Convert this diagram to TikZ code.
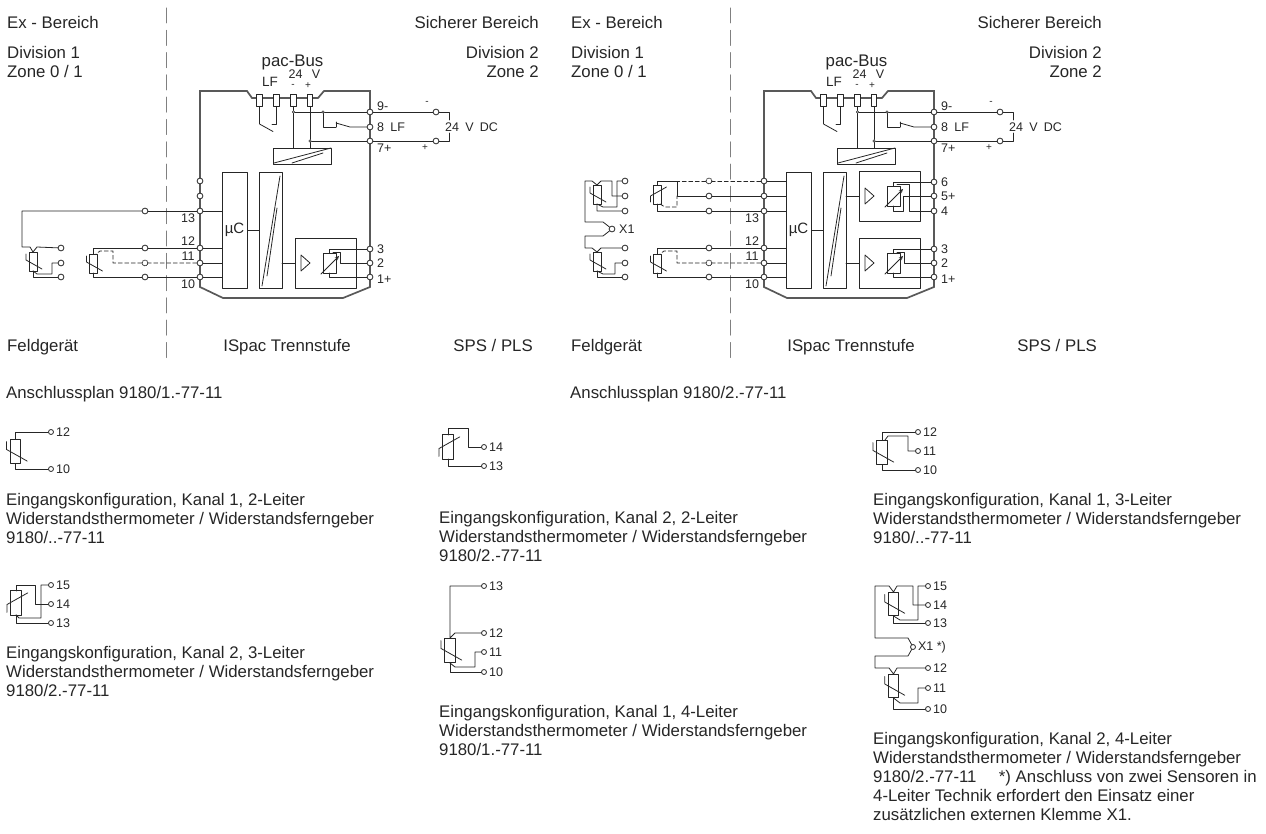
\documentclass[tikz,border=0pt]{standalone}
\usepackage{fontspec}
\setmainfont{Liberation Sans}
\definecolor{inkgray}{rgb}{0.15,0.15,0.15}
\definecolor{wallgray}{rgb}{0.35,0.35,0.35}
\tikzset{
  txt/.style={font=\fontsize{16.8}{19}\selectfont,text=inkgray,inner sep=0pt,align=left},
  tag/.style={font=\fontsize{12.5}{14}\selectfont,text=inkgray,inner sep=0pt},
  tagsmall/.style={font=\fontsize{10}{12}\selectfont,text=inkgray,inner sep=0pt},
  wire/.style={line width=0.8pt,color=black!85},
  dashwire/.style={wire,dash pattern=on 4pt off 2.5pt},
  wall/.style={line width=1.7pt,color=wallgray,line join=miter},
  zone/.style={line width=1pt,color=gray,dash pattern=on 15pt off 7.3pt},
  term/.style={circle,draw=black!85,fill=white,inner sep=0pt,minimum size=5.8pt,line width=0.8pt},
  termdash/.style={term,dash pattern=on 1pt off 1pt},
  termsmall/.style={term,minimum size=5pt},
  dotj/.style={circle,draw=black!85,fill=white,inner sep=0pt,minimum size=2.4pt,line width=0.5pt},
  pics/rtd/.style={code={
    \draw[wire] (-4,0) rectangle (4,19);
    \draw[wire] (-7,2) -- (-7,8) -- (9,17);
  }}
}
\begin{document}
\begin{tikzpicture}[line cap=round,line join=round,>=stealth,x=1pt,y=-1pt]
\useasboundingbox (0,0) rectangle (1266,834);

% the two circuit sheets
\foreach \m/\dx/\nr/\rr in {a/0/1/539,b/564/2/538} {
\begin{scope}[xshift=\dx pt]
\node[txt,anchor=base west] (\m ex) at (7,29) {Ex - Bereich};
\node[txt,anchor=base west] (\m div) at (7,59) {Division 1};
\node[txt,anchor=base west] (\m zone) at (7,78) {Zone 0 / 1};
\node[txt,anchor=base east] (\m safe) at (\rr,29) {Sicherer Bereich};
\node[txt,anchor=base east] (\m divb) at (\rr,59) {Division 2};
\node[txt,anchor=base east] (\m zoneb) at (\rr,78) {Zone 2};
\node[txt,anchor=base west] (\m feld) at (7,351) {Feldgerät};
\node[txt,anchor=base] (\m isp) at (287,351) {ISpac Trennstufe};
\node[txt,anchor=base east] (\m sps) at (533,351) {SPS / PLS};
\node[txt,anchor=base west] (\m plan) at (6,398) {Anschlussplan 9180/\nr.-77-11};
\draw[zone] (166,8) -- (166,364);
\draw[wall] (200,287) -- (200,91) -- (247,91) -- (252,98) -- (318,98) -- (324,91) -- (370,91) -- (370,287) -- (343,298) -- (223,298) -- cycle;

% bus head
\node[txt] (\m bus) at (292.5,62) {pac-Bus};
\node[tag] (\m lf) at (270,82) {\fontsize{13.5}{15}\selectfont LF};
\node[tag] (\m volt) at (295.5,74) {24};
\node[tag] (\m vv) at (316,74) {V};
\node[tagsmall] (\m mi) at (293,86) {-};
\node[tagsmall] (\m pl) at (308,86) {+};
\foreach \f/\x in {A/259.5,B/276.5,C/293.5,D/310}
  \node[draw=black!85,fill=white,line width=0.8pt,inner sep=0pt,minimum width=5.5pt,minimum height=12pt] (\m\f) at (\x,100) {};

% terminals
\foreach \n/\y in {9/112,8/127,7/141,3/249,2/263,1/277}
  \node[term] (\m\n) at (370,\y) {};
\foreach \n/\y in {15/181,14/196,13/211,12/248,11/263,10/277}
  \node[term] (\m\n) at (200,\y) {};
\node[tag,anchor=west] (\m l9) at (377,106) {9-};
\node[tag,anchor=west] (\m l8) at (377,127) {8\,\,\,LF};
\node[tag,anchor=west] (\m l7) at (377,148) {7+};
\node[tag,anchor=west] (\m l3) at (377,249) {3};
\node[tag,anchor=west] (\m l2) at (377,263) {2};
\node[tag,anchor=west] (\m l1) at (377,279) {1+};
\node[tag] (\m l13) at (188,218) {13};
\node[tag] (\m l12) at (188,241) {12};
\node[tag] (\m l11) at (188,256) {11};
\node[tag] (\m l10) at (188,284) {10};

% supply side
\node[dotj] (\m j1) at (293.5,112) {};
\node[dotj] (\m j2) at (323,112) {};
\node[dotj] (\m j3) at (310,141) {};
\node[term] (\m p) at (436,112) {};
\node[term] (\m q) at (436,141) {};
\node[tag,anchor=west] (\m dc) at (445,127) {24\,\,\,V\,\,\,DC};
\node[tagsmall] (\m mm) at (427,103) {-};
\node[tagsmall] (\m pp) at (425,148) {+};
\draw[wire] (\m9) -- (\m j2) -- (\m j1);
\draw[wire] (\m7) -- (\m j3);
\draw[wire] (\m9) -- (\m p);
\draw[wire] (\m7) -- (\m q);
\draw[wire] (\m p) -- (449,112) -- (449,120);
\draw[wire] (\m q) -- (449,141) -- (449,133);
\draw[wire] (\m C) -- (\m j1) -- (293.5,148);
\draw[wire] (\m D) -- (\m j3) -- (310,148);
\draw[wire] (\m A) -- (259.5,124) -- (273,131.5);
\draw[wire] (\m B) -- (276.5,124) -- (272,124);
\draw[wire] (\m j2) -- (323,127) -- (336,127);
\draw[wire] (336,122) -- (336,127);
\draw[wire] (336,123) -- (350,127) -- (\m8);
\draw[wire] (273,148) rectangle (331,164);
\draw[wire] (274,163) -- (331,148);
\draw[wire] (292,163) -- (323,153);

% blocks
\node[draw=black!85,line width=0.8pt,minimum width=25pt,minimum height=116pt,inner sep=0pt,tag] (\m uc) at (234.5,230) {\fontsize{15}{16}\selectfont µC};
\node[draw=black!85,line width=0.8pt,minimum width=23pt,minimum height=116pt,inner sep=0pt] (\m iso) at (270.5,230) {};
\draw[wire] (\m uc) -- (\m iso);
\draw[wire] (262,286) -- (280,176);
\draw[wire] (267,276) -- (277,208);
\node[draw=black!85,line width=0.8pt,minimum width=61pt,minimum height=50pt,inner sep=0pt] (\m out) at (325.5,263) {};
\draw[wire] (282,263) -- (\m out);
\draw[wire] (301,255) -- (301,271) -- (310,263) -- cycle;
\draw[wire] (323,253) rectangle (336,273);
\draw[wire,->] (321,274) -- (339,256);
\draw[wire] (\m3) -- (329,249) -- (329,253);
\draw[wire] (\m2) -- (340,263) -- (340,252) -- (333,252);
\draw[wire] (\m1) -- (329,277) -- (329,273);
\draw[wire] (\m13) -- (222,211);
\draw[wire] (\m12) -- (222,248);
\draw[wire] (\m11) -- (222,263);
\draw[wire] (\m10) -- (222,277);

% field side, lower channel
\node[term] (\m o12) at (145,248) {};
\node[termdash] (\m o11) at (145,263) {};
\node[term] (\m o10) at (145,277) {};
\node[term] (\m o13) at (145,211) {};
\pic at (93.5,254) {rtd};
\draw[wire] (\m12) -- (\m o12) -- (93.5,248) -- (93.5,254);
\draw[wire] (\m10) -- (\m o10) -- (93.5,277) -- (93.5,273);
\draw[dashwire] (\m11) -- (\m o11) -- (113,263) -- (113,251) -- (100,251) -- (96,254);
\draw[wire] (\m13) -- (\m o13);
\node[term] (\m s1) at (61,248) {};
\node[term] (\m s2) at (61,263) {};
\node[term] (\m s3) at (61,277) {};
\end{scope}
}

% sheet 1, field sensor
\pic at (33,252) {rtd};
\draw[wire] (ao13) -- (22,211) -- (22,247) -- (30,247) -- (33,252) -- (37,247) -- (as1);
\draw[wire] (33,271) -- (33,277) -- (as3);
\draw[wire] (33,271) -- (37,274) -- (52,274) -- (52,263) -- (as2);

% sheet 2, upper channel
\node[termdash] (bo15) at (709,181) {};
\node[term] (bo14) at (709,196) {};
\draw[wire] (b15) -- (786,181);
\draw[wire] (b14) -- (786,196);
\draw[dashwire] (b15) -- (bo15) -- (677,181);
\draw[wire] (b14) -- (bo14) -- (677,196) -- (677,181) -- (657.5,181) -- (657.5,185);
\draw[wire] (bo13) -- (657.5,211) -- (657.5,204);
\draw[dashwire] (660,204) -- (665,207) -- (677,207) -- (677,196);
\pic[yscale=-1] at (657.5,204) {rtd};

% sheet 2, upper output block
\node[term] (b6) at (934,182) {};
\node[term] (b5) at (934,196) {};
\node[term] (b4) at (934,211) {};
\node[tag,anchor=west] (bl6) at (941,182) {6};
\node[tag,anchor=west] (bl5) at (941,196) {5+};
\node[tag,anchor=west] (bl4) at (941,211) {4};
\node[draw=black!85,line width=0.8pt,minimum width=61pt,minimum height=50pt,inner sep=0pt] (bup) at (889.5,196) {};
\draw[wire] (846,196) -- (bup);
\draw[wire] (865,188) -- (865,204) -- (874,196) -- cycle;
\draw[wire] (887,186) rectangle (900,206);
\draw[wire,->] (885,207) -- (903,189);
\draw[wire] (b6) -- (893,182) -- (893,186);
\draw[wire] (b5) -- (903,196) -- (903,211) -- (893,211) -- (893,206);
\draw[wire] (b4) -- (909,211) -- (909,184) -- (897,184);

% sheet 2, field sensors
\node[term] (bu1) at (625,181) {};
\node[term] (bu2) at (625,196) {};
\node[term] (bu3) at (625,211) {};
\node[term] (bx) at (612,229) {};
\node[tag,anchor=west] (blx) at (619,229) {X1};
\pic at (597,185) {rtd};
\draw[wire] (bx) -- (603,222) -- (585,222) -- (585,181) -- (592,181) -- (597,185) -- (601,181) -- (612,181) -- (612,196) -- (bu2);
\draw[wire] (bu1) -- (617,181) -- (617,207) -- (603,207) -- (597,204) -- (597,211) -- (bu3);
\pic at (597,252) {rtd};
\draw[wire] (bx) -- (603,236) -- (585,236) -- (585,248) -- (592,248) -- (597,252) -- (601,248) -- (bs1);
\draw[wire] (bs2) -- (615,263) -- (615,274) -- (603,274) -- (597,271);
\draw[wire] (597,271) -- (597,277) -- (bs3);

% input configurations
\node[txt,anchor=north west] (capa) at (6,493) {Eingangskonfiguration, Kanal 1, 2-Leiter\\Widerstandsthermometer / Widerstandsferngeber\\9180/..-77-11};
\node[txt,anchor=north west] (capb) at (439,511) {Eingangskonfiguration, Kanal 2, 2-Leiter\\Widerstandsthermometer / Widerstandsferngeber\\9180/2.-77-11};
\node[txt,anchor=north west] (capc) at (873,493) {Eingangskonfiguration, Kanal 1, 3-Leiter\\Widerstandsthermometer / Widerstandsferngeber\\9180/..-77-11};
\node[txt,anchor=north west] (capd) at (6,646) {Eingangskonfiguration, Kanal 2, 3-Leiter\\Widerstandsthermometer / Widerstandsferngeber\\9180/2.-77-11};
\node[txt,anchor=north west] (cape) at (439,705) {Eingangskonfiguration, Kanal 1, 4-Leiter\\Widerstandsthermometer / Widerstandsferngeber\\9180/1.-77-11};
\node[txt,anchor=north west] (capf) at (873,732) {Eingangskonfiguration, Kanal 2, 4-Leiter\\Widerstandsthermometer / Widerstandsferngeber\\9180/2.-77-11\quad\,\,*) Anschluss von zwei Sensoren in\\4-Leiter Technik erfordert den Einsatz einer\\zusätzlichen externen Klemme X1.};

\foreach \n/\t/\x/\y in {
  a12/12/51/432,a10/10/51/469,
  b14/14/484/447,b13/13/484/466,
  c12/12/918/432,c11/11/918/451,c10/10/918/470,
  d15/15/51/585,d14/14/51/604,d13/13/51/623,
  e13/13/484/586,e12/12/484/633,e11/11/484/652,e10/10/484/672,
  f15/15/928/586,f14/14/928/605,f13/13/928/623,f12/12/928/668,f11/11/928/688,f10/10/928/709}
  \node[termsmall,label={[tag,xshift=2pt]0:\t}] (k\n) at (\x,\y) {};

\pic[scale=1.3] at (15.5,439) {rtd};
\draw[wire] (ka12) -- (15.5,432) -- (15.5,439);
\draw[wire] (ka10) -- (15.5,469) -- (15.5,464);

\pic[yscale=-1.3,xscale=1.3] at (448,459) {rtd};
\draw[wire] (448,435) -- (448,428) -- (468,428) -- (468,447) -- (kb14);
\draw[wire] (kb13) -- (448,466) -- (448,459);

\pic[scale=1.3] at (882,440) {rtd};
\draw[wire] (kc12) -- (882,432) -- (882,440);
\draw[wire] (885,440) -- (888,436) -- (908,436) -- (908,451) -- (kc11);
\draw[wire] (kc10) -- (882,470) -- (882,465);

\pic[yscale=-1.3,xscale=1.3] at (16,615) {rtd};
\draw[wire] (16,591) -- (16,585) -- (35,585) -- (35,604) -- (kd14);
\draw[wire] (kd15) -- (41,585) -- (41,618) -- (19,618) -- (16,615);
\draw[wire] (kd13) -- (16,623) -- (16,615);

\pic[scale=1.3] at (450,638) {rtd};
\draw[wire] (ke13) -- (450,586) -- (450,638) -- (455,633) -- (ke12);
\draw[wire] (ke11) -- (475,652) -- (475,667) -- (455,667) -- (450,663);
\draw[wire] (ke10) -- (450,672) -- (450,663);

\node[termsmall,label={[tag,xshift=2pt]0:X1 *)}] (kx) at (913,647) {};
\pic[scale=1.25] at (893.5,592) {rtd};
\draw[wire] (kx) -- (908,638) -- (875,638) -- (875,586) -- (889,586) -- (893.5,592) -- (897,586) -- (913,586) -- (913,605) -- (kf14);
\draw[wire] (kf15) -- (918,586) -- (918,620) -- (900,620) -- (893.5,616);
\draw[wire] (kf13) -- (893.5,623) -- (893.5,616);
\pic[scale=1.25] at (893.5,674) {rtd};
\draw[wire] (kx) -- (908,656) -- (875,656) -- (875,668) -- (889,668) -- (893.5,674) -- (897,668) -- (kf12);
\draw[wire] (kf11) -- (918,688) -- (918,703) -- (900,703) -- (893.5,698);
\draw[wire] (kf10) -- (893.5,709) -- (893.5,698);
\end{tikzpicture}
\end{document}
